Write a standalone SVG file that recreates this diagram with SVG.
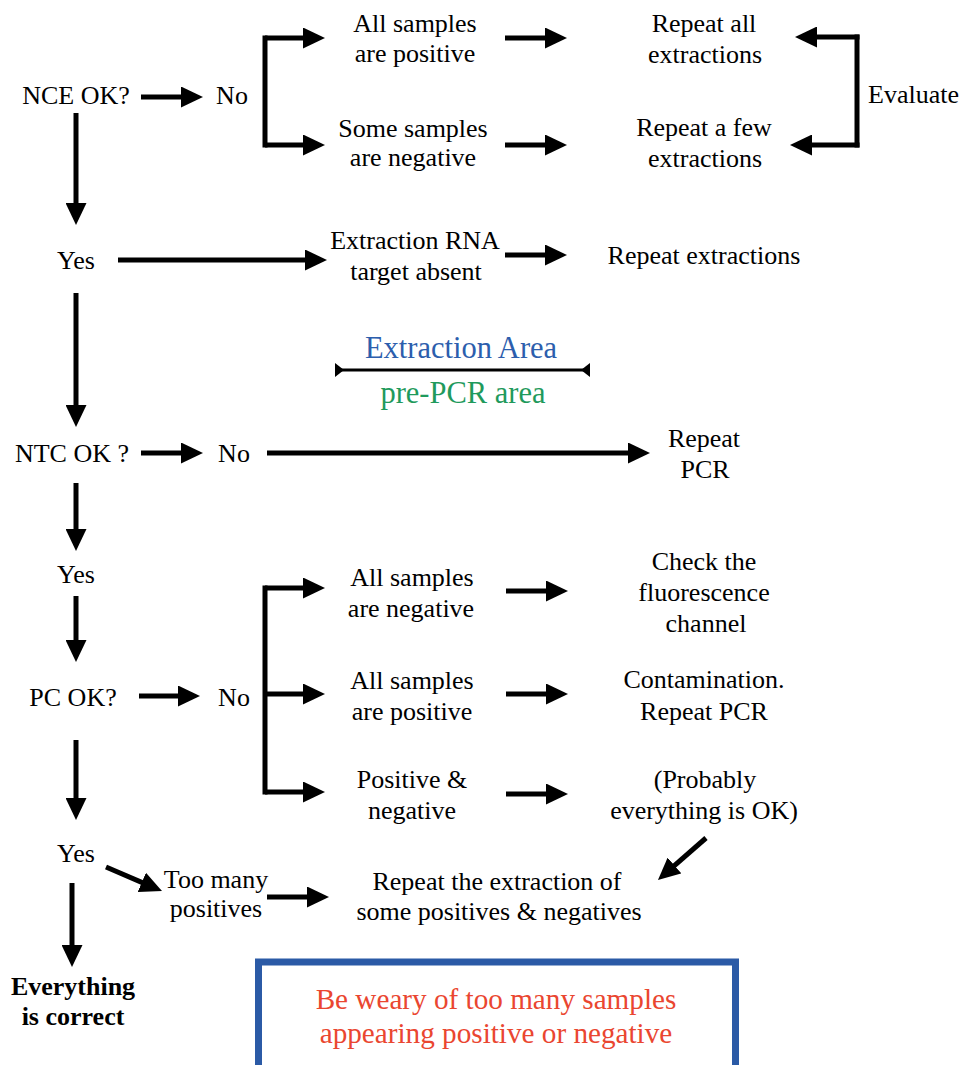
<svg xmlns="http://www.w3.org/2000/svg" width="960" height="1065" viewBox="0 0 960 1065">
<style>
text{font-family:"Liberation Serif","DejaVu Serif",serif;font-size:26px;fill:#000;text-anchor:middle}
.l{text-anchor:start}
.b{font-weight:bold}
.blue{fill:#2c5ead;font-size:30.5px}
.green{fill:#1f9a5c;font-size:30.5px}
.red{fill:#ea4630;font-size:29.2px}
.c{fill:none;stroke:#000;stroke-width:5}
.a{marker-end:url(#ah)}
</style>
<defs>
<marker id="ah" viewBox="0 0 22 21" markerWidth="22" markerHeight="21" refX="12" refY="10.5" markerUnits="userSpaceOnUse" orient="auto"><path d="M0,0 L22,10.5 L0,21 Z" fill="#000"/></marker>
<marker id="ts" viewBox="-10 -8 20 16" markerWidth="20" markerHeight="16" refX="0" refY="0" markerUnits="userSpaceOnUse" orient="auto"><path d="M0,-7 L9,0 L0,7 Z" fill="#000"/></marker>
<marker id="te" viewBox="-10 -8 20 16" markerWidth="20" markerHeight="16" refX="0" refY="0" markerUnits="userSpaceOnUse" orient="auto"><path d="M0,-7 L-9,0 L0,7 Z" fill="#000"/></marker>
</defs>
<rect width="960" height="1065" fill="#fff"/>
<g id="connectors">
<path class="c a" d="M141,97 H193"/>
<path class="c" d="M265,35.5 V147.5"/>
<path class="c a" d="M265,38 H315"/>
<path class="c a" d="M265,145 H315"/>
<path class="c a" d="M505,38 H557"/>
<path class="c a" d="M505,145 H557"/>
<path class="c" d="M857,34.5 V147.5"/>
<path class="c a" d="M859.5,37 H805"/>
<path class="c a" d="M859.5,145 H800"/>
<path class="c a" d="M76,113 V215"/>
<path class="c a" d="M118,260 H317"/>
<path class="c a" d="M505,255 H557"/>
<path class="c a" d="M76,293 V417"/>
<path d="M335,370 H590" fill="none" stroke="#000" stroke-width="3" marker-start="url(#ts)" marker-end="url(#te)"/>
<path class="c a" d="M141,453 H193"/>
<path class="c a" d="M267,453 H640"/>
<path class="c a" d="M76,483 V541"/>
<path class="c a" d="M76,596 V652"/>
<path class="c a" d="M139,696 H190"/>
<path class="c" d="M265,585.5 V794.5"/>
<path class="c a" d="M265,588 H315"/>
<path class="c a" d="M265,694 H315"/>
<path class="c a" d="M265,792 H315"/>
<path class="c a" d="M506,591 H558"/>
<path class="c a" d="M506,694 H558"/>
<path class="c a" d="M506,794 H558"/>
<path class="c a" d="M76,740 V810"/>
<path class="c a" d="M106,867 L152.8,887.1"/>
<path class="c a" d="M267,897 H319"/>
<path class="c a" d="M706,838 L665.5,873.4"/>
<path class="c a" d="M72,883 V957"/>
</g>
<g id="nce"><text x="76" y="104">NCE OK?</text></g>
<g id="no1"><text x="232" y="104">No</text></g>
<g id="allpos1"><text x="415" y="32">All samples</text><text x="415" y="62">are positive</text></g>
<g id="someneg"><text x="413" y="137">Some samples</text><text x="413" y="166">are negative</text></g>
<g id="repall"><text x="704" y="32">Repeat all</text><text x="705" y="63">extractions</text></g>
<g id="repfew"><text x="704" y="136">Repeat a few</text><text x="705" y="167">extractions</text></g>
<g id="evaluate"><text class="l" x="868" y="103">Evaluate</text></g>
<g id="yes1"><text x="76" y="269">Yes</text></g>
<g id="rnaabsent"><text x="415" y="249">Extraction RNA</text><text x="416" y="280">target absent</text></g>
<g id="repext"><text x="704" y="264">Repeat extractions</text></g>
<g id="area"><text class="blue" x="461" y="358">Extraction Area</text><text class="green" x="463" y="403">pre-PCR area</text></g>
<g id="ntc"><text x="72" y="462">NTC OK ?</text></g>
<g id="no2"><text x="234" y="462">No</text></g>
<g id="reppcr"><text x="704" y="447">Repeat</text><text x="705" y="478">PCR</text></g>
<g id="yes2"><text x="76" y="583">Yes</text></g>
<g id="pc"><text x="73" y="706">PC OK?</text></g>
<g id="no3"><text x="234" y="706">No</text></g>
<g id="allneg"><text x="412" y="586">All samples</text><text x="411" y="617">are negative</text></g>
<g id="allpos2"><text x="412" y="689">All samples</text><text x="412" y="720">are positive</text></g>
<g id="posneg"><text x="412" y="788">Positive &amp;</text><text x="412" y="819">negative</text></g>
<g id="checkfluo"><text x="704" y="570">Check the</text><text x="704" y="601">fluorescence</text><text x="706" y="632">channel</text></g>
<g id="contam"><text x="704" y="688">Contamination.</text><text x="704" y="720">Repeat PCR</text></g>
<g id="probok"><text x="705" y="788">(Probably</text><text x="704" y="819">everything is OK)</text></g>
<g id="yes3"><text x="76" y="862">Yes</text></g>
<g id="toomany"><text x="216" y="888">Too many</text><text x="216" y="917">positives</text></g>
<g id="repsome"><text x="497" y="890">Repeat the extraction of</text><text x="499" y="920">some positives &amp; negatives</text></g>
<g id="correct"><text class="b" x="73" y="995">Everything</text><text class="b" x="73" y="1025">is correct</text></g>
<g id="warning"><rect x="258.5" y="962" width="477" height="123" fill="none" stroke="#2b5aa6" stroke-width="7"/><text class="red" x="496" y="1009">Be weary of too many samples</text><text class="red" x="496" y="1043">appearing positive or negative</text></g>
</svg>
